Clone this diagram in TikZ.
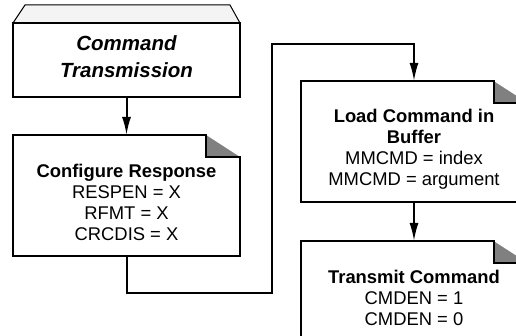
\documentclass[tikz,border=0pt]{standalone}
\usepackage{fontspec}
\setmainfont{Liberation Sans}
\usetikzlibrary{arrows.meta}
\definecolor{foldgray}{RGB}{128,128,128}
\definecolor{lidgray}{RGB}{244,244,244}
% note box with folded corner
\newcommand{\dogear}[1]{%
    \fill[foldgray] ([xshift=-34pt]#1.north east) -- ([xshift=-34pt,yshift=-22pt]#1.north east) -- ([yshift=-22pt]#1.north east) -- cycle;
    \draw[boxline] (#1.north west) -- ([xshift=-34pt]#1.north east) -- ([xshift=-34pt,yshift=-22pt]#1.north east)
        -- ([yshift=-22pt]#1.north east) -- (#1.south east) -- (#1.south west) -- cycle;
}
\begin{document}
\begin{tikzpicture}[x=1pt, y=-1pt,
        box/.style={rectangle, minimum width=227pt, inner sep=0pt, outer sep=0pt},
        boxline/.style={line width=2pt, line join=miter},
        wire/.style={line width=2pt, -{Latex[length=18pt,width=9pt]}},
        txt/.style={align=center, font=\fontsize{18.4}{21}\selectfont},
        head/.style={align=center, font=\fontsize{20.5}{27}\selectfont\bfseries\itshape}]
    \useasboundingbox (0,0) rectangle (516,336);
    \clip (0,0) rectangle (516,336);

    \node[box, minimum height=74pt] (title) at (126.5,60) {};
    \filldraw[fill=lidgray, line width=1pt] (title.north west) -- ([xshift=12pt,yshift=18pt]title.north west)
        -- ([xshift=-10pt,yshift=18pt]title.north east) -- (title.north east);
    \draw[boxline] (title.north west) rectangle (title.south east);
    \node[head] (titleText) at (126.5,57) {Command\\Transmission};

    \node[box, minimum height=121pt] (resp) at (126.5,195.5) {};
    \dogear{resp}
    \node[txt] (respText) at (126.5,202) {\textbf{Configure Response}\\RESPEN = X\\RFMT = X\\CRCDIS = X};

    \node[box, minimum height=121pt] (load) at (414,141.5) {};
    \dogear{load}
    \node[txt] (loadText) at (414,149) {\textbf{Load Command in}\\\textbf{Buffer}\\MMCMD = index\\MMCMD = argument};

    \node[box, minimum height=120pt, anchor=north] (xmit) at (414,241) {};
    \dogear{xmit}
    \node[txt] (xmitText) at (414,298) {\textbf{Transmit Command}\\CMDEN = 1\\CMDEN = 0};

    \coordinate (bendA) at (272,293);
    \coordinate (bendB) at (272,44);
    \draw[wire] (title.south) -- (resp.north);
    \draw[wire] (resp.south) |- (bendA) -- (bendB) -| (load.north);
    \draw[wire] (load.south) -- (xmit.north);
\end{tikzpicture}
\end{document}
